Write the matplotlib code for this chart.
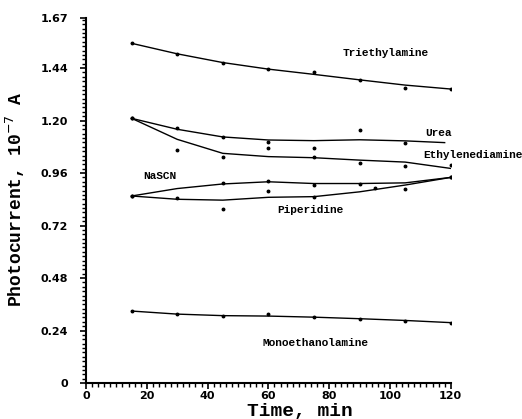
import numpy as np
import matplotlib
matplotlib.use('Agg')
import matplotlib.pyplot as plt
from matplotlib.ticker import MultipleLocator, FixedLocator

# Sampling times (min)
t = [15, 30, 45, 60, 75, 90, 105, 120]

# Measured photocurrents (10^-7 A)
triethyl_t = [15, 30, 45, 60, 75, 90, 105, 120]
triethyl_pts = [1.553, 1.504, 1.464, 1.434, 1.423, 1.385, 1.347, 1.344]
urea_t = [15, 30, 45, 60, 75, 90, 105]
urea_pts = [1.21, 1.164, 1.123, 1.100, 1.076, 1.157, 1.099]
ethylene_t = [15, 30, 45, 60, 75, 90, 105, 120]
ethylene_pts = [1.21, 1.065, 1.035, 1.073, 1.032, 1.004, 0.990, 0.997]
nascn_t = [15, 45, 60, 75, 90, 120]
nascn_pts = [0.855, 0.913, 0.923, 0.905, 0.910, 0.940]
piper_t = [15, 30, 45, 60, 75, 95, 105, 120]
piper_pts = [0.855, 0.844, 0.794, 0.879, 0.852, 0.890, 0.885, 0.940]
mono_t = [15, 30, 45, 60, 75, 90, 105, 120]
mono_pts = [0.329, 0.314, 0.306, 0.314, 0.300, 0.293, 0.285, 0.276]

# Smoothed trend curves
urea_curve_t = [15, 30, 45, 60, 75, 90, 105, 118]
triethyl_curve = [1.553, 1.505, 1.465, 1.435, 1.411, 1.386, 1.362, 1.344]
urea_curve = [1.21, 1.160, 1.125, 1.111, 1.108, 1.112, 1.107, 1.099]
ethylene_curve = [1.21, 1.114, 1.050, 1.035, 1.030, 1.019, 1.010, 0.981]
nascn_curve = [0.855, 0.889, 0.910, 0.920, 0.912, 0.912, 0.915, 0.940]
piper_curve = [0.855, 0.840, 0.836, 0.849, 0.852, 0.874, 0.905, 0.940]
mono_curve = [0.329, 0.315, 0.308, 0.306, 0.301, 0.294, 0.286, 0.276]

y_ticks = [0, 0.24, 0.48, 0.72, 0.96, 1.20, 1.44, 1.67]
y_ticklabels = ['0', '0.24', '0.48', '0.72', '0.96', '1.20', '1.44', '1.67']

label_font = {'family': 'Liberation Mono', 'weight': 'bold', 'size': 8}

fig = plt.figure(figsize=(5.22, 4.19), dpi=100)
ax = fig.add_axes([0.1648, 0.0859, 0.6987, 0.8718])

curves = [
    (t, triethyl_curve), (urea_curve_t, urea_curve), (t, ethylene_curve),
    (t, nascn_curve), (t, piper_curve), (t, mono_curve),
]
for xs, ys in curves:
    ax.plot(xs, ys, color='black', linewidth=1.0)

points = [
    (triethyl_t, triethyl_pts), (urea_t, urea_pts), (ethylene_t, ethylene_pts),
    (nascn_t, nascn_pts), (piper_t, piper_pts), (mono_t, mono_pts),
]
for xs, ys in points:
    ax.plot(xs, ys, 'o', color='black', markersize=1.8)

# Curve labels
ax.text(84.4, 1.51, 'Triethylamine', va='center', **label_font)
ax.text(111.5, 1.143, 'Urea', va='center', **label_font)
ax.text(110.9, 1.042, 'Ethylenediamine', va='center', clip_on=False, **label_font)
ax.text(18.8, 0.946, 'NaSCN', va='center', **label_font)
ax.text(62.8, 0.79, 'Piperidine', va='center', **label_font)
ax.text(58.2, 0.183, 'Monoethanolamine', va='center', **label_font)

ax.set_xlim(0, 120)
ax.set_ylim(0, 1.67)
ax.xaxis.set_major_locator(MultipleLocator(20))
ax.xaxis.set_minor_locator(MultipleLocator(2))
ax.yaxis.set_major_locator(FixedLocator(y_ticks))
ax.set_yticklabels(y_ticklabels)
ax.yaxis.set_minor_locator(MultipleLocator(0.02))

for side in ['top', 'right']:
    ax.spines[side].set_visible(False)
for side in ['left', 'bottom']:
    ax.spines[side].set_linewidth(1.5)

ax.tick_params(which='major', direction='out', length=4, width=1.2,
               labelsize=8, pad=9)
ax.tick_params(which='minor', direction='out', length=3, width=1.0)
ax.tick_params(axis='x', which='major', pad=2)
for lbl in ax.get_xticklabels() + ax.get_yticklabels():
    lbl.set_fontweight('bold')

ax.set_ylabel('Photocurrent, 10$^{-7}$ A', fontfamily='Liberation Mono',
              fontweight='bold', fontsize=13)
ax.yaxis.set_label_coords(-0.163, 0.504)
ax.set_xlabel('Time, min', fontfamily='Liberation Mono',
              fontweight='bold', fontsize=14)
ax.xaxis.set_label_coords(0.587, -0.055)

fig.savefig('out.png', dpi=100)
